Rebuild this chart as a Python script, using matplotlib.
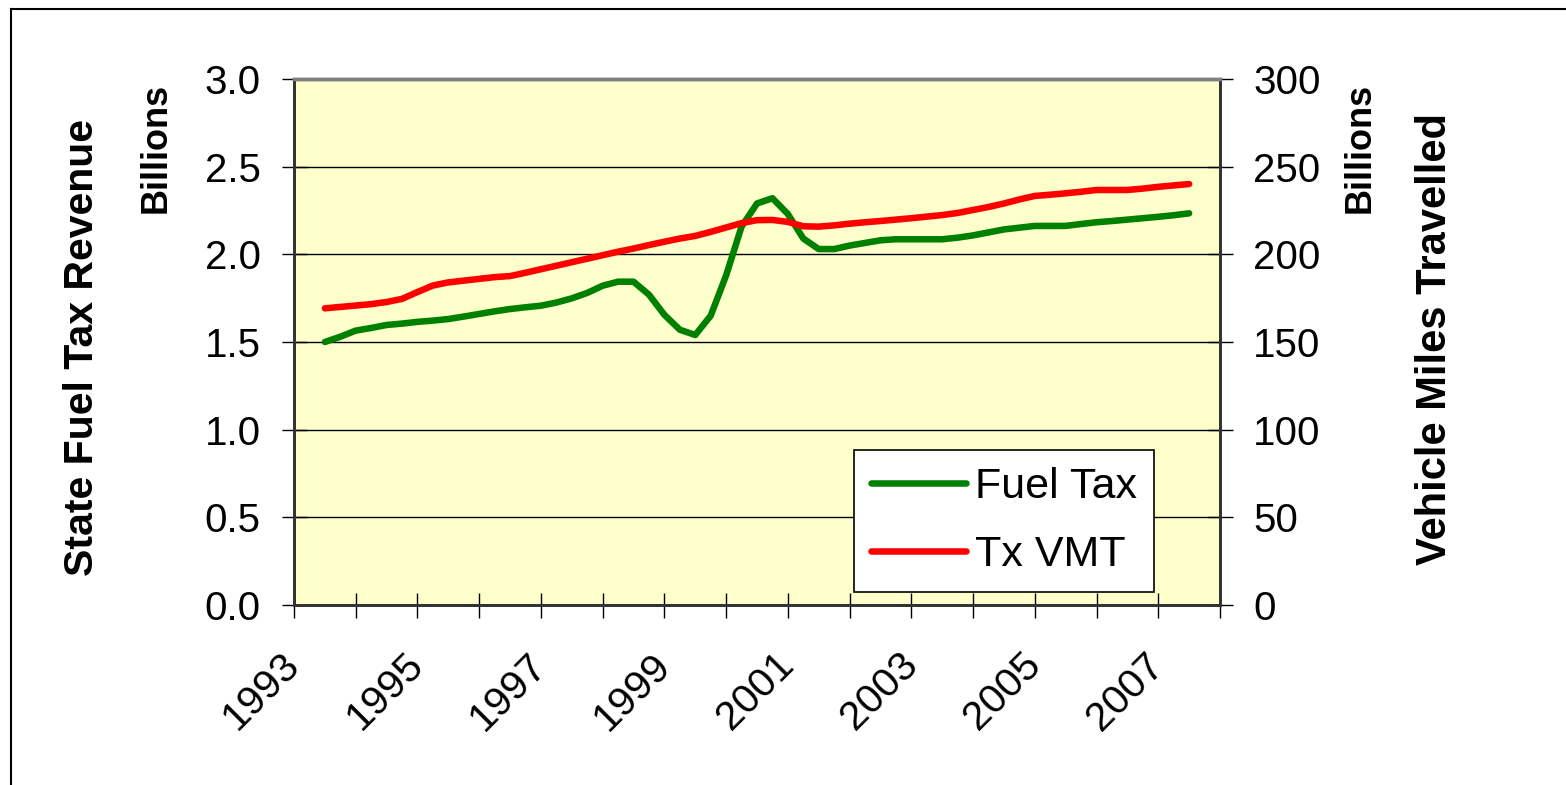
"""Texas state fuel tax revenue vs vehicle miles travelled, 1993-2007."""

import matplotlib
matplotlib.use("Agg")
import matplotlib.pyplot as plt
import matplotlib.transforms as mtransforms
import numpy as np

plt.rcParams["font.family"] = ["Liberation Sans", "DejaVu Sans"]

# quarterly observations, mid-1993 .. mid-2007
QUARTERS = 1993.5 + 0.25 * np.arange(57)

FUEL_TAX = [1.50, 1.53, 1.565, 1.58, 1.597, 1.605, 1.615, 1.622, 1.631, 1.645,
            1.66, 1.675, 1.688, 1.698, 1.707, 1.725, 1.749, 1.78, 1.821, 1.844,
            1.844, 1.77, 1.655, 1.57, 1.54, 1.65, 1.88, 2.158, 2.29, 2.32,
            2.23, 2.09, 2.03, 2.03, 2.05, 2.065, 2.08, 2.086, 2.086, 2.086,
            2.086, 2.095, 2.108, 2.125, 2.142, 2.152, 2.162, 2.162, 2.162, 2.173,
            2.183, 2.19, 2.198, 2.206, 2.214, 2.223, 2.234]

TX_VMT = [169.2, 170, 170.8, 171.6, 172.8, 174.6, 178.5, 182.2, 184, 185,
          186, 187, 187.6, 189.5, 191.5, 193.5, 195.5, 197.5, 199.5, 201.5,
          203.3, 205.3, 207.2, 209, 210.5, 212.8, 215.3, 217.8, 219.5, 219.6,
          218.5, 216, 215.8, 216.5, 217.5, 218.3, 219, 219.8, 220.6, 221.5,
          222.4, 223.6, 225.3, 227, 229, 231.3, 233.3, 234, 234.8, 235.7,
          236.7, 236.7, 236.7, 237.5, 238.5, 239.3, 240.1]

YEARS = list(range(1993, 2009))
YEAR_LABELS = [str(y) if y % 2 == 1 and y < 2008 else "" for y in YEARS]
LEFT_TICKS = [0.0, 0.5, 1.0, 1.5, 2.0, 2.5, 3.0]
RIGHT_TICKS = [0, 50, 100, 150, 200, 250, 300]

W, H = 1566, 785
fig = plt.figure(figsize=(W / 100, H / 100), dpi=100)
ax = fig.add_axes([294 / W, 1 - 605 / H, (1220 - 294) / W, (605 - 79) / H])
ax2 = ax.twinx()

ax.set_facecolor("#FFFFCC")
ax.set_zorder(0)
ax2.set_zorder(1)
ax2.patch.set_visible(False)

ax.set_xlim(1993, 2008)
ax.set_ylim(0, 3.0)
ax2.set_ylim(0, 300)

ax.set_yticks(LEFT_TICKS)
ax.set_yticklabels([f"{v:.1f}" for v in LEFT_TICKS])
ax2.set_yticks(RIGHT_TICKS)
ax2.set_yticklabels([str(v) for v in RIGHT_TICKS])
ax.set_xticks(YEARS)
ax.set_xticklabels(YEAR_LABELS, rotation=45, ha="right", va="center",
                   rotation_mode="anchor")
shift = mtransforms.ScaledTranslation(9 / 100, -2 / 100, fig.dpi_scale_trans)
for lab in ax.get_xticklabels():
    lab.set_transform(lab.get_transform() + shift)

ax.grid(axis="y", color="black", linewidth=1.0)
ax.set_axisbelow(True)

ax.tick_params(axis="y", direction="inout", length=18, width=1, pad=15,
               labelsize=29)
ax.tick_params(axis="x", direction="inout", length=18, width=1, pad=30,
               labelsize=29.5)
ax2.tick_params(axis="y", direction="inout", length=18, width=1, pad=15,
                labelsize=29)

for a in (ax, ax2):
    for side in ("left", "bottom", "right"):
        a.spines[side].set_color("#333333")
        a.spines[side].set_linewidth(2)
    a.spines["top"].set_color("#808080")
    a.spines["top"].set_linewidth(2.5)

l1, = ax.plot(QUARTERS, FUEL_TAX, color="#008000", linewidth=4.7,
              solid_capstyle="round", solid_joinstyle="round", label="Fuel Tax")
l2, = ax2.plot(QUARTERS, TX_VMT, color="#FF0000", linewidth=4.7,
               solid_capstyle="round", solid_joinstyle="round", label="Tx VMT")

leg = ax2.legend(handles=[l1, l2], loc="upper left",
                 bbox_to_anchor=(854 / W, 1 - 450 / H),
                 bbox_transform=fig.transFigure, borderaxespad=0,
                 fontsize=31, frameon=True, fancybox=False, shadow=False,
                 handlelength=2.2, handletextpad=0.2, borderpad=0.4,
                 labelspacing=0.65)
leg.get_frame().set_edgecolor("black")
leg.get_frame().set_linewidth(1.2)
leg.get_frame().set_facecolor("white")
leg.get_frame().set_alpha(1)

# axis titles
fig.text(82 / W, 1 - 347 / H, "State Fuel Tax Revenue", rotation=90,
         ha="center", va="center", fontsize=29.5, fontweight="bold")
fig.text(156 / W, 1 - 148 / H, "Billions", rotation=90,
         ha="center", va="center", fontsize=26, fontweight="bold")
fig.text(1360 / W, 1 - 148 / H, "Billions", rotation=90,
         ha="center", va="center", fontsize=26, fontweight="bold")
fig.text(1435 / W, 1 - 339 / H, "Vehicle Miles Travelled", rotation=90,
         ha="center", va="center", fontsize=30, fontweight="bold")

# chart-area border (top and left edges visible in the frame)
fig.add_artist(plt.Line2D([11 / W, 11 / W], [0, 1 - 9 / H],
                          transform=fig.transFigure, color="black", linewidth=1.5))
fig.add_artist(plt.Line2D([11 / W, 1], [1 - 9 / H, 1 - 9 / H],
                          transform=fig.transFigure, color="black", linewidth=1.5))

fig.savefig("out.png", dpi=100)
